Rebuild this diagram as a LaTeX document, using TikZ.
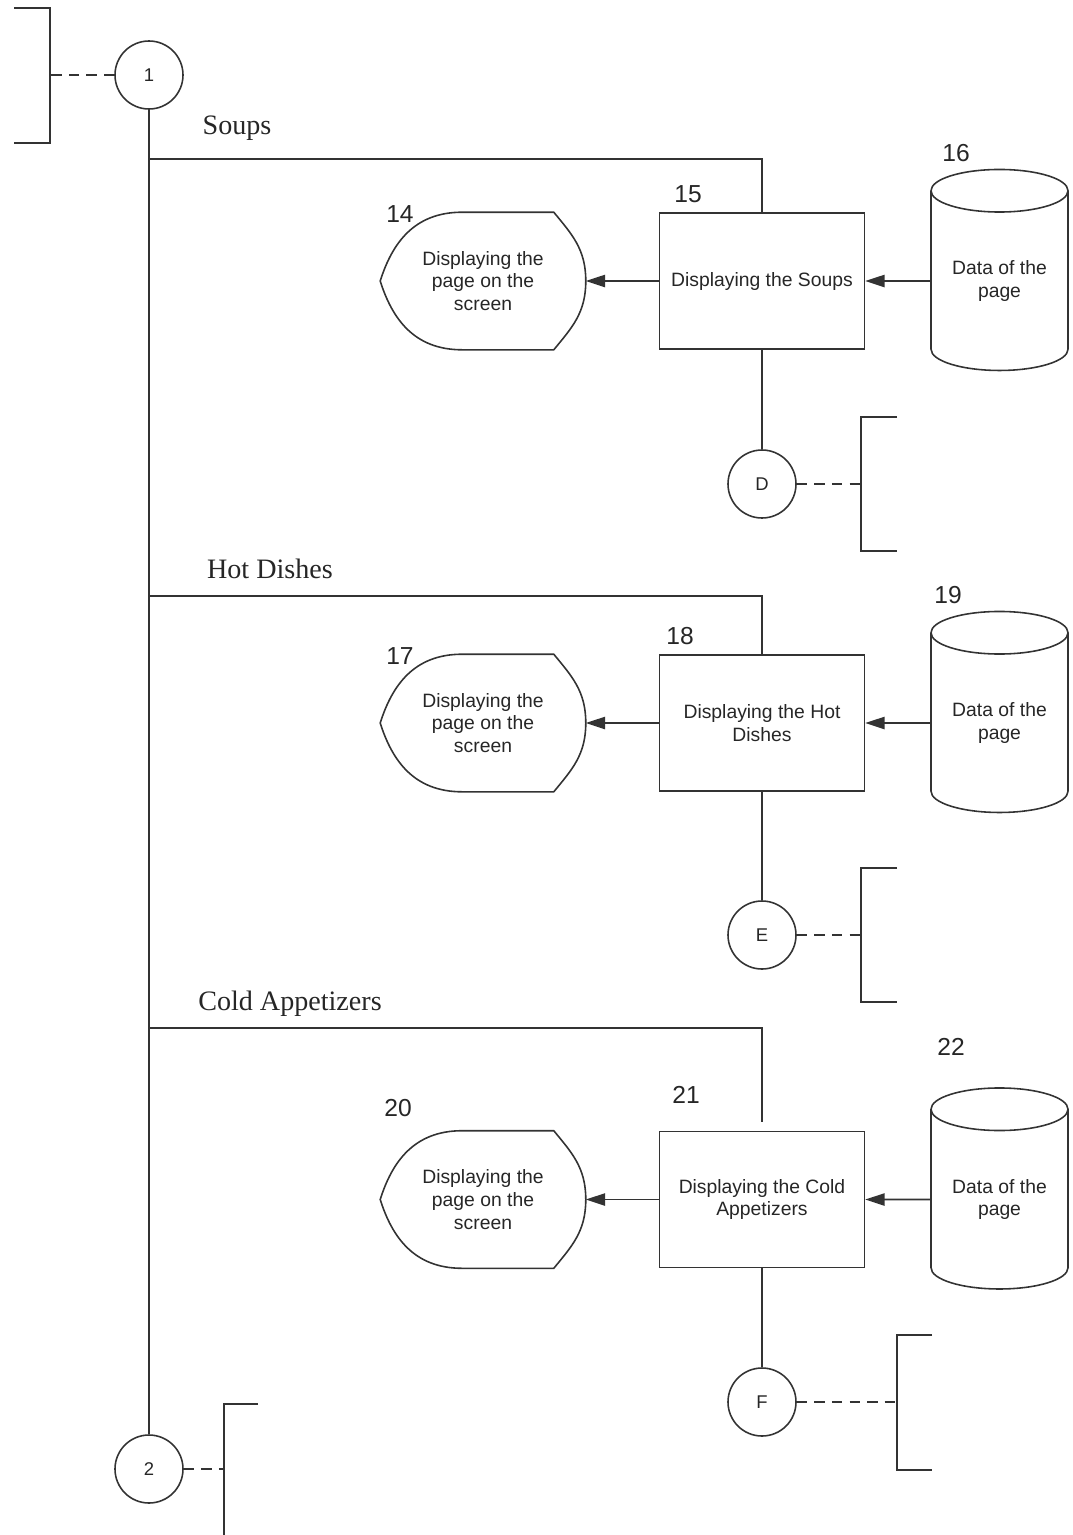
\documentclass[tikz,border=0pt]{standalone}
\usepackage{fontspec}
\setmainfont{Liberation Serif}
\setsansfont{Liberation Sans}
\usepackage{xcolor}
\usepackage{tikz}
\usetikzlibrary{shapes, arrows.meta, positioning, calc}
\definecolor{linegray}{rgb}{0.2, 0.2, 0.2}
\newcommand{\pxu}{0.02cm}
%% outline of a display symbol around an (invisible) node
\newcommand{\screenedge}[1]{%
  \draw (#1.west) .. controls +(12,-38) and +(-48,0) .. ($(#1.north west)+(82,0)$)
    -- ($(#1.north east)+(-32,0)$) .. controls +(18,22) and +(0,-32) .. (#1.east)
    .. controls +(0,32) and +(18,-22) .. ($(#1.south east)+(-32,0)$)
    -- ($(#1.south west)+(82,0)$) .. controls +(-48,0) and +(12,38) .. (#1.west);}

\begin{document}
\begin{tikzpicture}[x=0.02cm, y=-0.02cm, line width=0.9pt, color=linegray,
  every node/.style={text=black!85},
  procbox/.style={draw, rectangle, minimum width=205*\pxu, minimum height=136*\pxu, align=center, inner sep=2pt, font=\sffamily\fontsize{11}{13}\selectfont},
  screen/.style={rectangle, minimum width=204*\pxu, minimum height=136*\pxu, align=center, inner sep=0pt, font=\sffamily\fontsize{11}{13}\selectfont},
  datacyl/.style={cylinder, draw, shape border rotate=90, aspect=0.45, minimum width=137*\pxu, minimum height=201*\pxu, align=center, inner sep=0pt, font=\sffamily\fontsize{11}{13}\selectfont},
  conn/.style={circle, draw, minimum size=68*\pxu, inner sep=0pt, font=\sffamily\fontsize{10.5}{12}\selectfont},
  numlabel/.style={font=\sffamily\fontsize{14}{16}\selectfont},
  sectitle/.style={font=\rmfamily\fontsize{16}{18}\selectfont},
  flow/.style={-{Triangle[length=11pt, width=7pt]}},
  offpage/.style={dash pattern=on 6pt off 4pt}]
\useasboundingbox (0,0) rectangle (1072,1535);

%% connectors on the main line
\node[conn] (one) at (149,75) {1};
\node[conn] (two) at (149,1469) {2};
\draw (one.south) -- (two.north);
\draw (14,8) -- (50,8) -- (50,143) -- (14,143);
\coordinate (brone) at (50,75);
\draw[offpage] (one.west) -- (brone);
\draw (258,1404) -- (224,1404) -- (224,1535);
\coordinate (brtwo) at (224,1469);
\draw[offpage] (two.east) -- (brtwo);

%% Soups
\node[sectitle] (souptitle) at (237,128) {Soups};
\coordinate (jsoup) at (149,159);
\node[procbox] (soupbox) at (762,281) {Displaying the Soups};
\node[screen] (soupscreen) at (483,281) {Displaying the\\page on the\\screen};
\screenedge{soupscreen}
\node[datacyl] (soupdata) at (999.5,281) {Data of the\\page};
\node[numlabel] (n14) at (400,214) {14};
\node[numlabel] (n15) at (688,194) {15};
\node[numlabel] (n16) at (956,153) {16};
\draw (jsoup) -| (soupbox.north);
\draw[flow] (soupbox.west) -- (soupscreen.east);
\draw[flow] (soupdata.west) -- (soupbox.east);
\node[conn] (D) at (762,484) {D};
\draw (soupbox.south) -- (D.north);
\draw (897,417) -- (861,417) -- (861,551) -- (897,551);
\coordinate (brD) at (861,484);
\draw[offpage] (D.east) -- (brD);

%% Hot Dishes
\node[sectitle] (hottitle) at (270,569) {Hot Dishes};
\coordinate (jhot) at (149,596);
\node[procbox] (hotbox) at (762,723) {Displaying the Hot\\Dishes};
\node[screen] (hotscreen) at (483,723) {Displaying the\\page on the\\screen};
\screenedge{hotscreen}
\node[datacyl] (hotdata) at (999.5,723) {Data of the\\page};
\node[numlabel] (n17) at (400,656) {17};
\node[numlabel] (n18) at (680,636) {18};
\node[numlabel] (n19) at (948,595) {19};
\draw (jhot) -| (hotbox.north);
\draw[flow] (hotbox.west) -- (hotscreen.east);
\draw[flow] (hotdata.west) -- (hotbox.east);
\node[conn] (E) at (762,935) {E};
\draw (hotbox.south) -- (E.north);
\draw (897,868) -- (861,868) -- (861,1002) -- (897,1002);
\coordinate (brE) at (861,935);
\draw[offpage] (E.east) -- (brE);

%% Cold Appetizers
\node[sectitle] (coldtitle) at (290,1004) {Cold Appetizers};
\coordinate (jcold) at (149,1028);
\node[procbox] (coldbox) at (762,1199.5) {Displaying the Cold\\Appetizers};
\node[screen] (coldscreen) at (483,1199.5) {Displaying the\\page on the\\screen};
\screenedge{coldscreen}
\node[datacyl] (colddata) at (999.5,1199.5) {Data of the\\page};
\node[numlabel] (n20) at (398,1108) {20};
\node[numlabel] (n21) at (686,1095) {21};
\node[numlabel] (n22) at (951,1047) {22};
\draw[shorten >=5pt] (jcold) -| (coldbox.north);
\draw[flow] (coldbox.west) -- (coldscreen.east);
\draw[flow] (colddata.west) -- (coldbox.east);
\node[conn] (F) at (762,1402) {F};
\draw (coldbox.south) -- (F.north);
\draw (932,1335) -- (897,1335) -- (897,1470) -- (932,1470);
\coordinate (brF) at (897,1402);
\draw[offpage] (F.east) -- (brF);
\end{tikzpicture}
\end{document}
